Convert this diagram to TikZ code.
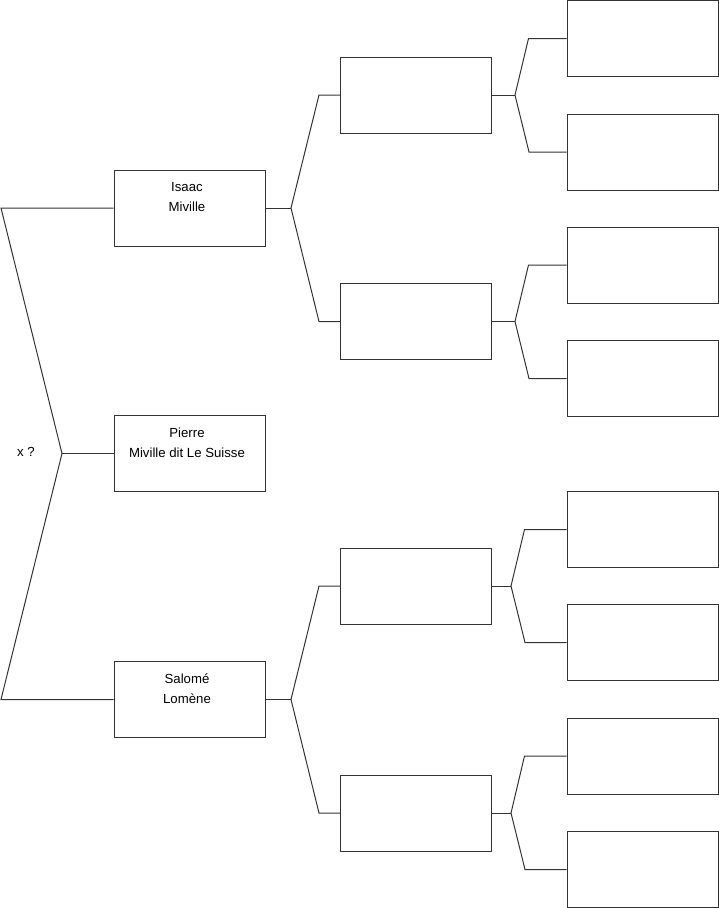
\documentclass[tikz,border=0pt]{standalone}
\usepackage{fontspec}
\setmainfont{Liberation Sans}
\begin{document}
\begin{tikzpicture}[x=1pt,y=-1pt,
  box/.style={draw=black!80,line width=1pt,fill=white,minimum width=151pt,minimum height=76pt,inner sep=0pt},
  lbl/.style={font=\fontsize{13.2pt}{20pt}\selectfont,align=center,inner sep=0pt},
  conn/.style={draw=black!80,line width=1pt,line join=miter}]
\useasboundingbox (0,0) rectangle (719,908);
% column 1
\node[box] (isaac)  at (189.5,208) {};
\node[box] (pierre) at (189.5,453.5) {};
\node[box] (salome) at (189.5,699.5) {};
\node[lbl] at ([xshift=-2.5pt,yshift=11pt]isaac.center) {Isaac\\Miville};
\node[lbl] at ([xshift=-2.5pt,yshift=11pt]pierre.center) {Pierre\\Miville dit Le Suisse};
\node[lbl] at ([xshift=-2.5pt,yshift=11pt]salome.center) {Salomé\\Lomène};
\node[lbl] (xq) at (26,452) {x ?};
% column 2
\node[box] (a1) at (416,95) {};
\node[box] (a2) at (416,321.5) {};
\node[box] (b1) at (416,586) {};
\node[box] (b2) at (416,813) {};
% column 3
\node[box] (c1) at (642.5,38.5) {};
\node[box] (c2) at (642.5,152) {};
\node[box] (c3) at (642.5,265) {};
\node[box] (c4) at (642.5,378.5) {};
\node[box] (c5) at (642.5,529.5) {};
\node[box] (c6) at (642.5,642.5) {};
\node[box] (c7) at (642.5,756) {};
\node[box] (c8) at (642.5,869.5) {};
% joints
\coordinate (j0) at (62,453.5);
\coordinate (tl) at (1,208);
\coordinate (bl) at (1,699.5);
\coordinate (ji) at (291,208);
\coordinate (js) at (291,699.5);
\coordinate (ja1) at (515,95);
\coordinate (ja2) at (515,321.5);
\coordinate (jb1) at (511,586);
\coordinate (jb2) at (511,813);
% connectors
\draw[conn] (isaac.west) -- (tl) -- (j0) -- (bl) -- (salome.west);
\draw[conn] (j0) -- (pierre.west);
\draw[conn] (isaac.east) -- (ji);
\draw[conn] (a1.west) -- ++(-21,0) -- (ji) -- (319,321.5) -- (a2.west);
\draw[conn] (salome.east) -- (js);
\draw[conn] (b1.west) -- ++(-21,0) -- (js) -- (319,813) -- (b2.west);
\draw[conn] (a1.east) -- (ja1);
\draw[conn] (c1.west) -- ++(-38,0) -- (ja1) -- (529,152) -- (c2.west);
\draw[conn] (a2.east) -- (ja2);
\draw[conn] (c3.west) -- ++(-38,0) -- (ja2) -- (529,378.5) -- (c4.west);
\draw[conn] (b1.east) -- (jb1);
\draw[conn] (c5.west) -- ++(-42,0) -- (jb1) -- (525,642.5) -- (c6.west);
\draw[conn] (b2.east) -- (jb2);
\draw[conn] (c7.west) -- ++(-42,0) -- (jb2) -- (525,869.5) -- (c8.west);
\end{tikzpicture}
\end{document}
